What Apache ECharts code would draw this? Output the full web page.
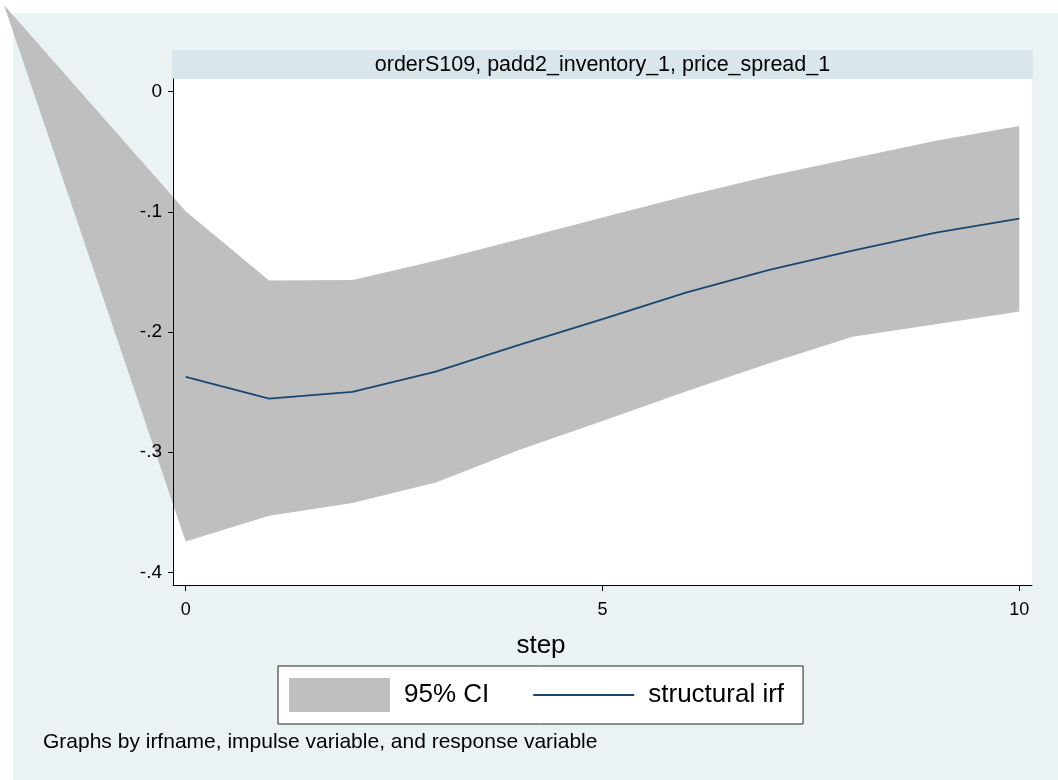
<!DOCTYPE html>
<html>
<head>
<meta charset="utf-8">
<script src="https://cdn.jsdelivr.net/npm/echarts@6/dist/echarts.min.js"></script>
<style>
  html, body { margin: 0; padding: 0; background: #ffffff; }
  #chart { width: 1058px; height: 780px; }
</style>
</head>
<body>
<div id="chart"></div>
<script>
// Impulse response: orderS109 -> padd2_inventory_1 -> price_spread_1
const steps = [0, 1, 2, 3, 4, 5, 6, 7, 8, 9, 10];
const irf   = [-0.2374, -0.2554, -0.2498, -0.2329, -0.2107, -0.1892, -0.1672, -0.1483, -0.1323, -0.1173, -0.1056];
const ciLow = [-0.3744, -0.3530, -0.3424, -0.3253, -0.2983, -0.2740, -0.2496, -0.2260, -0.2040, -0.1935, -0.1830];
const ciUp  = [-0.0995, -0.1572, -0.1567, -0.1406, -0.1228, -0.1048, -0.0868, -0.0701, -0.0554, -0.0408, -0.0286];

const xTicks = [0, 5, 10];
const yTicks = [0, -0.1, -0.2, -0.3, -0.4];

const panelTitle = 'orderS109, padd2_inventory_1, price_spread_1';
const xTitle = 'step';
const footNote = 'Graphs by irfname, impulse variable, and response variable';

const FONT = '"Liberation Sans", Arial, Helvetica, sans-serif';
const BG = '#EAF2F3';
const STRIP = '#D9E6EB';
const BAND = '#BFBFBF';
const NAVY = '#1A476F';

// the band outline opens at the page corner
const BAND_ANCHOR = [4, 5];

const fmtY = v => (Math.abs(v) < 1e-9 ? '0' : String(+v.toFixed(1)).replace('0.', '.'));

// plot region (axis lines, white field) and the inner tick range it pads
const PLOT = { left: 173, top: 79, right: 26, bottom: 195 };
const PAD = 12.7;

const chart = echarts.init(document.getElementById('chart'), null, { renderer: 'canvas' });

chart.setOption({
  animation: false,
  backgroundColor: '#ffffff',
  textStyle: { fontFamily: FONT },
  graphic: [
    { type: 'rect', z: -10, silent: true,
      shape: { x: 13, y: 13, width: 1045, height: 767 },
      style: { fill: BG } },
    { type: 'rect', z: -5, silent: true,
      shape: { x: 172, y: 50, width: 861, height: 29 },
      style: { fill: STRIP } },
    { type: 'text', z: 5, silent: true, x: 602.5, y: 65,
      style: { text: panelTitle, fill: '#000', font: '21.5px ' + FONT, align: 'center', verticalAlign: 'middle' } },
    { type: 'text', z: 5, silent: true, x: 541, y: 646,
      style: { text: xTitle, fill: '#000', font: '26px ' + FONT, align: 'center', verticalAlign: 'middle' } },
    { type: 'text', z: 5, silent: true, x: 43, y: 742,
      style: { text: footNote, fill: '#000', font: '21px ' + FONT, align: 'left', verticalAlign: 'middle' } }
  ],
  grid: [
    { left: PLOT.left, top: PLOT.top, right: PLOT.right, bottom: PLOT.bottom,
      show: true, backgroundColor: '#ffffff', borderWidth: 0 },
    { left: PLOT.left + PAD, top: PLOT.top + PAD, right: PLOT.right + PAD, bottom: PLOT.bottom + PAD,
      show: false }
  ],
  legend: {
    left: 278, top: 666,
    padding: [12, 19, 12, 11],
    itemWidth: 101, itemHeight: 34, itemGap: 44,
    symbolKeepAspect: true,
    backgroundColor: '#ffffff', borderColor: '#222', borderWidth: 1,
    textStyle: { fontFamily: FONT, fontSize: 26, color: '#000', padding: [0, 0, 0, 9] },
    data: [
      { name: '95% CI', icon: 'rect', itemStyle: { color: BAND } },
      { name: 'structural irf', icon: 'path://M0,0H100V2H0Z', itemStyle: { color: NAVY } }
    ]
  },
  xAxis: [
    { // frame line along the bottom of the plot region
      gridIndex: 0, type: 'value', min: 0, max: 1, z: 10,
      axisLine: { show: true, onZero: false, lineStyle: { color: '#000', width: 1 } },
      axisTick: { show: false }, axisLabel: { show: false }, splitLine: { show: false }
    },
    { // ticks and labels for step
      gridIndex: 1, type: 'value', min: 0, max: 10, interval: 5, offset: PAD, z: 10,
      axisLine: { show: false, onZero: false },
      axisTick: { show: true, length: 6, lineStyle: { color: '#000', width: 1 } },
      axisLabel: { margin: 16, fontSize: 18, color: '#000', fontFamily: FONT },
      splitLine: { show: false }
    }
  ],
  yAxis: [
    {
      gridIndex: 0, type: 'value', min: 0, max: 1, z: 10,
      axisLine: { show: true, onZero: false, lineStyle: { color: '#000', width: 1 } },
      axisTick: { show: false }, axisLabel: { show: false }, splitLine: { show: false }
    },
    {
      gridIndex: 1, type: 'value', min: -0.4, max: 0, interval: 0.1, offset: PAD, z: 10,
      axisLine: { show: false, onZero: false },
      axisTick: { show: true, length: 5, lineStyle: { color: '#000', width: 1 } },
      axisLabel: { margin: 11, fontSize: 19, color: '#000', fontFamily: FONT, formatter: fmtY },
      splitLine: { show: false }
    }
  ],
  series: [
    {
      // horizontal grid lines across the whole plot region at the y ticks
      name: 'grid', type: 'line', xAxisIndex: 1, yAxisIndex: 1, z: 1, silent: true, data: [],
      markLine: {
        z: 1, silent: true, symbol: 'none', label: { show: false },
        lineStyle: { color: '#E6EFF2', width: 1.5, type: 'solid' },
        data: yTicks.map(v => [
          { coord: [-PAD / 83.35, v] },
          { coord: [10 + PAD / 83.35, v] }
        ])
      }
    },
    {
      name: '95% CI', type: 'custom', xAxisIndex: 1, yAxisIndex: 1, z: 2, clip: false, silent: true,
      itemStyle: { color: BAND },
      data: steps.map((s, i) => [s, ciLow[i], ciUp[i]]),
      renderItem: function (params, api) {
        if (params.dataIndex !== 0) return null;
        const pts = [BAND_ANCHOR.slice()];
        for (let i = 0; i < steps.length; i++) pts.push(api.coord([steps[i], ciUp[i]]));
        for (let i = steps.length - 1; i >= 0; i--) pts.push(api.coord([steps[i], ciLow[i]]));
        return { type: 'polygon', shape: { points: pts }, style: { fill: BAND } };
      }
    },
    {
      name: 'structural irf', type: 'line', xAxisIndex: 1, yAxisIndex: 1, z: 3, silent: true,
      clip: false, symbol: 'none', showSymbol: false,
      lineStyle: { color: NAVY, width: 1.8 },
      itemStyle: { color: NAVY },
      data: steps.map((s, i) => [s, irf[i]])
    }
  ]
});
</script>
</body>
</html>
